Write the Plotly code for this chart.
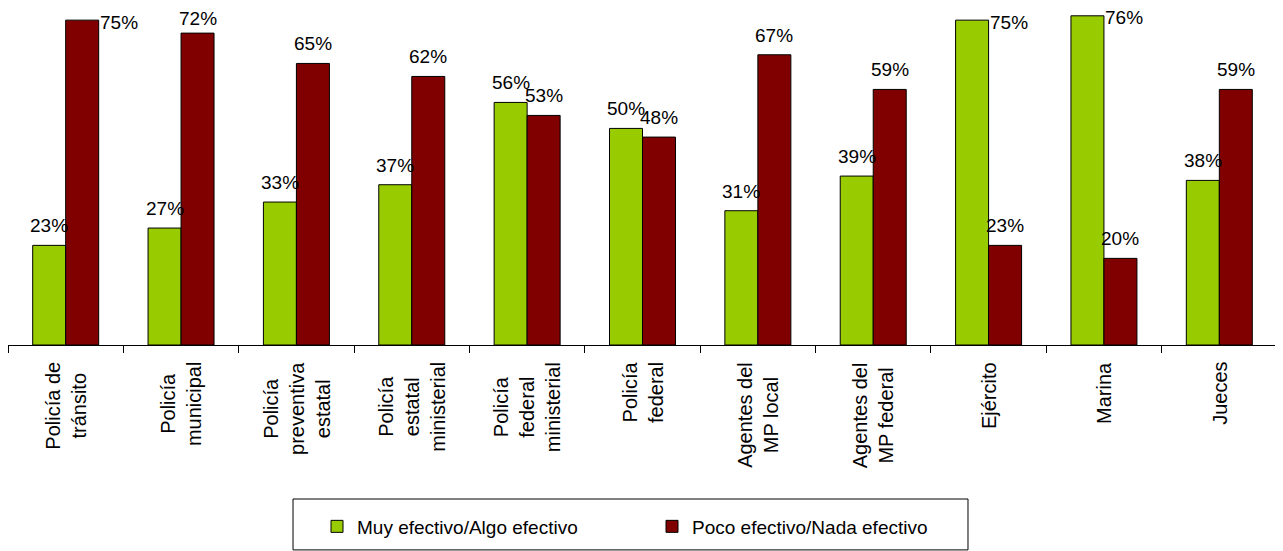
import plotly.graph_objects as go

categories = [
    "Policía de<br>tránsito",
    "Policía<br>municipal",
    "Policía<br>preventiva<br>estatal",
    "Policía<br>estatal<br>ministerial",
    "Policía<br>federal<br>ministerial",
    "Policía<br>federal",
    "Agentes del<br>MP local",
    "Agentes del<br>MP federal",
    "Ejército",
    "Marina",
    "Jueces",
]
efectivo = [23, 27, 33, 37, 56, 50, 31, 39, 75, 76, 38]
no_efectivo = [75, 72, 65, 62, 53, 48, 67, 59, 23, 20, 59]

series_names = ["Muy efectivo/Algo efectivo", "Poco efectivo/Nada efectivo"]
colors = ["#99CC00", "#800000"]

fig = go.Figure()
for name, vals, col in zip(series_names, [efectivo, no_efectivo], colors):
    fig.add_trace(go.Bar(
        x=categories, y=vals, name=name,
        marker=dict(color=col, line=dict(color="black", width=1)),
    ))

annotations = []
# value labels: centered above each bar, moved to the right side when the bar is near the top
for k, vals in enumerate([efectivo, no_efectivo]):
    offset = -16.5 if k == 0 else 16.5
    for cat, v in zip(categories, vals):
        if v >= 74:
            annotations.append(dict(
                x=cat, y=v, xref="x", yref="y", text=f"{v}%", showarrow=False,
                xanchor="left", yanchor="middle", xshift=offset + 16, yshift=-2,
                font=dict(size=19, color="black"),
            ))
        else:
            annotations.append(dict(
                x=cat, y=v, xref="x", yref="y", text=f"{v}%", showarrow=False,
                xanchor="center", yanchor="bottom", xshift=offset,
                yshift=2 if v >= 70 else 7,
                font=dict(size=19, color="black"),
            ))

# category labels, rotated and centered line by line
for cat in categories:
    annotations.append(dict(
        x=cat, y=0, xref="x", yref="y", text=cat, showarrow=False,
        textangle=-90, align="center", xanchor="center", yanchor="top",
        yshift=-15, font=dict(size=20, color="black"),
    ))

fig.update_layout(
    width=1275, height=543,
    margin=dict(l=0, r=6, t=0, b=206),
    paper_bgcolor="white", plot_bgcolor="white",
    font=dict(family="Arial, Liberation Sans, sans-serif", color="black"),
    barmode="group", bargap=0.428, bargroupgap=0,
    xaxis=dict(
        showline=True, linecolor="black", linewidth=1,
        ticks="outside", ticklen=7, tickcolor="black", tickson="boundaries",
        showticklabels=False, showgrid=False, zeroline=False,
    ),
    yaxis=dict(
        range=[0, 77.8], showticklabels=False, showgrid=False,
        zeroline=False, showline=False, ticks="",
    ),
    showlegend=True,
    legend=dict(
        orientation="h", x=0.2435, xanchor="left", y=-0.5386, yanchor="middle",
        font=dict(size=19), entrywidth=290, bgcolor="rgba(0,0,0,0)",
    ),
    annotations=annotations,
    shapes=[dict(
        type="rect", xref="paper", yref="paper",
        x0=0.2246, x1=0.7565, y0=-0.608, y1=-0.457,
        line=dict(color="black", width=1), fillcolor="rgba(0,0,0,0)",
    )],
)

fig.write_html("out.html")
